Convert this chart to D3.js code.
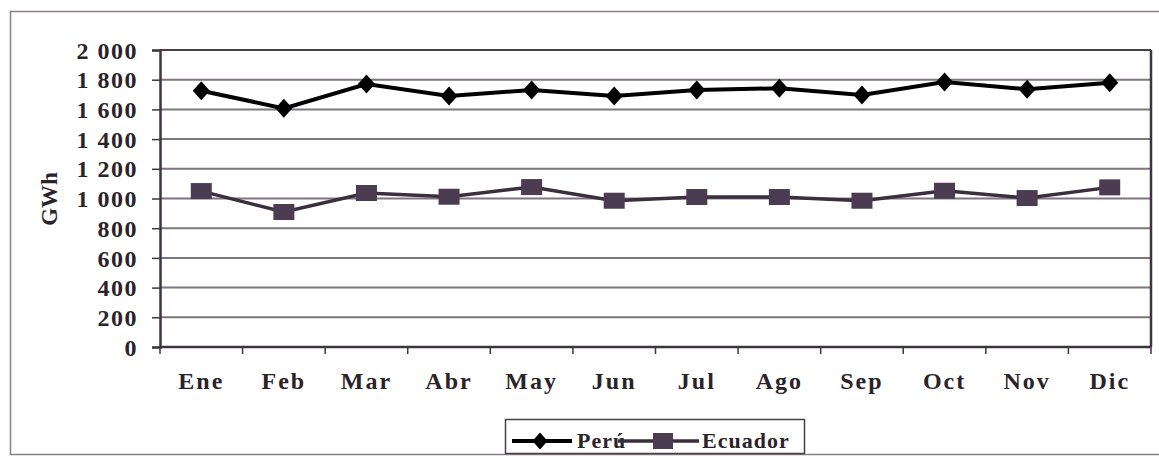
<!DOCTYPE html>
<html>
<head>
<meta charset="utf-8">
<script src="https://cdn.jsdelivr.net/npm/d3@7"></script>
<style>
  html, body { margin: 0; padding: 0; background: #fff; }
  svg { display: block; }
  text { font-family: "Liberation Serif", "Times New Roman", serif; font-weight: bold; fill: #2b2329; }
</style>
</head>
<body>
<svg id="chart" width="1159" height="457"></svg>
<script>
// Monthly generation, GWh
const months = ["Ene", "Feb", "Mar", "Abr", "May", "Jun", "Jul", "Ago", "Sep", "Oct", "Nov", "Dic"];
const peru = [1726, 1607, 1771, 1690, 1731, 1690, 1731, 1742, 1697, 1785, 1735, 1780];
const ecuador = [1050, 909, 1037, 1012, 1077, 985, 1010, 1010, 985, 1052, 1003, 1075];
const yTicks = [0, 200, 400, 600, 800, 1000, 1200, 1400, 1600, 1800, 2000];
const seriesNames = ["Perú", "Ecuador"];

const svg = d3.select("#chart");
const plot = { left: 160, right: 1151, top: 50, bottom: 347 };

const x = d3.scaleBand().domain(months).range([plot.left, plot.right]).padding(0);
const cx = d => x(d) + x.bandwidth() / 2;
const y = d3.scaleLinear().domain([0, 2000]).range([plot.bottom, plot.top]);

const fmt = d3.formatLocale({ decimal: ",", thousands: " ", grouping: [3], currency: ["", ""] }).format(",");

// outer frame
svg.append("rect")
  .attr("x", 10.5).attr("y", 11.5).attr("width", 1160).attr("height", 443)
  .attr("fill", "none").attr("stroke", "#8a8088").attr("stroke-width", 1.5);

// horizontal gridlines
svg.append("g").selectAll("line").data(yTicks.filter(v => v > 0)).join("line")
  .attr("x1", plot.left).attr("x2", plot.right)
  .attr("y1", d => y(d)).attr("y2", d => y(d))
  .attr("stroke", d => d === 2000 ? "#4a3f4a" : "#7f7480")
  .attr("stroke-width", 2);

// right edge of plot area
svg.append("line")
  .attr("x1", plot.right).attr("x2", plot.right)
  .attr("y1", plot.top).attr("y2", plot.bottom)
  .attr("stroke", "#3e3540").attr("stroke-width", 2.5);

// y axis
const yAxis = d3.axisLeft(y).tickValues(yTicks).tickFormat(fmt).tickSize(8).tickPadding(14);
const gy = svg.append("g").attr("transform", `translate(${plot.left},0)`).call(yAxis);
gy.select(".domain").attr("stroke", "#3e3540").attr("stroke-width", 2.5);
gy.selectAll(".tick line").attr("stroke", "#3e3540").attr("stroke-width", 1.5);
gy.selectAll(".tick text")
  .style("font-size", "24px").style("letter-spacing", "1.5px")
  .attr("fill", "#2b2329").attr("dy", "0.34em");

// x axis: tick marks sit on band boundaries
const gx = svg.append("g").attr("transform", `translate(0,${plot.bottom})`);
gx.append("line").attr("x1", plot.left).attr("x2", plot.right)
  .attr("stroke", "#3e3540").attr("stroke-width", 2.5);
gx.selectAll("line.tk").data(months.concat(["__end"])).join("line").attr("class", "tk")
  .attr("x1", (d, i) => i < months.length ? x(d) : plot.right)
  .attr("x2", (d, i) => i < months.length ? x(d) : plot.right)
  .attr("y1", 0).attr("y2", 7)
  .attr("stroke", "#3e3540").attr("stroke-width", 1.5);
gx.selectAll("text").data(months).join("text")
  .attr("x", d => cx(d)).attr("y", 42)
  .attr("text-anchor", "middle")
  .style("font-size", "24px").style("letter-spacing", "2px")
  .text(d => d);

// y axis title
svg.append("text")
  .attr("transform", "translate(57,199) rotate(-90)")
  .attr("text-anchor", "middle")
  .style("font-size", "23px")
  .text("GWh");

// series
const line = d3.line().x((d, i) => cx(months[i])).y(d => y(d));

svg.append("path").datum(ecuador)
  .attr("d", line).attr("fill", "none")
  .attr("stroke", "#3b2e3e").attr("stroke-width", 3.5);
svg.append("path").datum(peru)
  .attr("d", line).attr("fill", "none")
  .attr("stroke", "#000").attr("stroke-width", 4);

const diamond = (s) => `M0,${-s}L${s * 0.9},0L0,${s}L${-s * 0.9},0Z`;

svg.append("g").selectAll("path").data(peru).join("path")
  .attr("transform", (d, i) => `translate(${cx(months[i])},${y(d)})`)
  .attr("d", diamond(9.5)).attr("fill", "#000");

svg.append("g").selectAll("rect").data(ecuador).join("rect")
  .attr("x", (d, i) => cx(months[i]) - 10.5).attr("y", d => y(d) - 8)
  .attr("width", 21).attr("height", 16).attr("fill", "#4c3c52");

// legend
const lg = svg.append("g");
lg.append("rect").attr("x", 505.5).attr("y", 419.5).attr("width", 299).attr("height", 34)
  .attr("fill", "#fff").attr("stroke", "#4a3f4a").attr("stroke-width", 1.5);
const ly = 441;
lg.append("line").attr("x1", 512).attr("x2", 572).attr("y1", ly).attr("y2", ly)
  .attr("stroke", "#000").attr("stroke-width", 4);
lg.append("path").attr("transform", `translate(540,${ly})`).attr("d", diamond(8.5)).attr("fill", "#000");
lg.append("text").attr("x", 577).attr("y", ly + 7).style("font-size", "22px").style("letter-spacing", "1px").text(seriesNames[0]);
lg.append("line").attr("x1", 618).attr("x2", 699).attr("y1", ly).attr("y2", ly)
  .attr("stroke", "#3b2e3e").attr("stroke-width", 3.5);
lg.append("rect").attr("x", 653).attr("y", ly - 8).attr("width", 20).attr("height", 16).attr("fill", "#4c3c52");
lg.append("text").attr("x", 702).attr("y", ly + 7).style("font-size", "22px").style("letter-spacing", "1px").text(seriesNames[1]);
</script>
</body>
</html>
